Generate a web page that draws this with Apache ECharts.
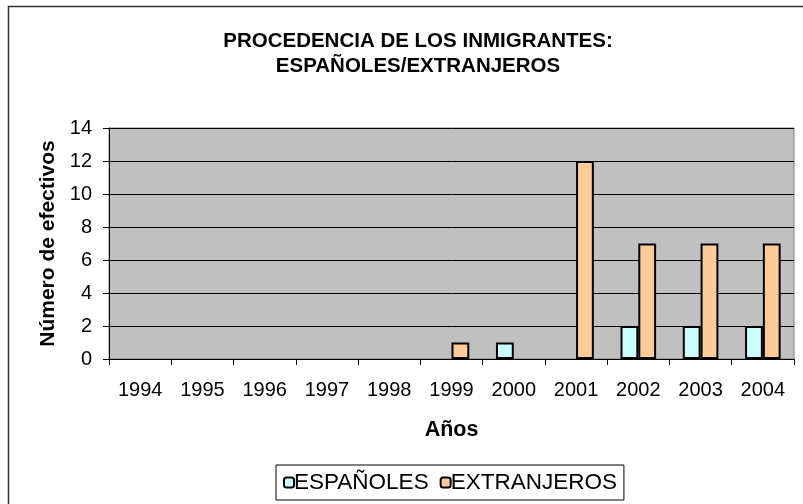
<!DOCTYPE html>
<html lang="es">
<head>
    <meta charset="UTF-8">
    <title>Procedencia de los inmigrantes</title>
    <script src="https://cdn.jsdelivr.net/npm/echarts@6.0.0/dist/echarts.min.js"></script>
    <style>
        body { margin: 0; background: #fff; }
    </style>
</head>
<body>
    <div id="main" style="width: 803px;height:504px;"></div>
    <script type="text/javascript">
        // data
        const years = ['1994', '1995', '1996', '1997', '1998', '1999', '2000', '2001', '2002', '2003', '2004'];
        const espanoles = [0, 0, 0, 0, 0, 0, 1, 0, 2, 2, 2];
        const extranjeros = [0, 0, 0, 0, 0, 1, 0, 12, 7, 7, 7];
        const yTicks = [0, 2, 4, 6, 8, 10, 12, 14];

        const font = 'Liberation Sans, Arial, sans-serif';

        // zero bars are not drawn in the original, so drop their border
        function toBars(values) {
            return values.map(v => v === 0
                ? { value: v, itemStyle: { borderWidth: 0 } }
                : v);
        }

        const myChart = echarts.init(document.getElementById('main'));

        const option = {
            backgroundColor: '#fff',
            textStyle: { fontFamily: font, color: '#000' },
            // chart area frame, it runs past the right and bottom edges
            graphic: [{
                type: 'rect',
                shape: { x: 8.5, y: 6.5, width: 900, height: 600 },
                style: { fill: 'none', stroke: '#333', lineWidth: 1.5 },
                silent: true
            }],
            title: {
                text: 'PROCEDENCIA DE LOS INMIGRANTES:\nESPAÑOLES/EXTRANJEROS',
                left: 413,
                textAlign: 'center',
                top: 24,
                textStyle: {
                    fontFamily: font,
                    fontSize: 20.5,
                    fontWeight: 'bold',
                    color: '#000',
                    lineHeight: 25
                }
            },
            grid: {
                left: 109,
                right: 9,
                top: 128,
                bottom: 145,
                show: true,
                backgroundColor: '#C0C0C0',
                borderColor: '#808080',
                borderWidth: 1
            },
            legend: {
                top: 465,
                left: 276,
                data: ['ESPAÑOLES', 'EXTRANJEROS'],
                itemWidth: 10,
                itemHeight: 10,
                itemGap: 11,
                padding: [6, 7, 6, 7],
                borderColor: '#000',
                borderWidth: 1,
                textStyle: { fontFamily: font, fontSize: 22.5, color: '#000', padding: [0, 0, 0, -5] }
            },
            xAxis: {
                type: 'category',
                data: years,
                name: 'Años',
                nameLocation: 'middle',
                nameGap: 60,
                nameTextStyle: { fontFamily: font, fontSize: 21.5, fontWeight: 'bold', color: '#000' },
                axisLine: { lineStyle: { color: '#000', width: 1 } },
                axisTick: { show: true, length: 6, lineStyle: { color: '#000' } },
                axisLabel: { fontFamily: font, fontSize: 20, color: '#000', margin: 21 }
            },
            yAxis: {
                type: 'value',
                min: yTicks[0],
                max: yTicks[yTicks.length - 1],
                interval: 2,
                name: 'Número de efectivos',
                nameLocation: 'middle',
                nameGap: 40,
                nameTextStyle: { fontFamily: font, fontSize: 21, fontWeight: 'bold', color: '#000' },
                axisLine: { show: true, lineStyle: { color: '#000', width: 1 } },
                axisTick: { show: true, length: 6, lineStyle: { color: '#000' } },
                splitLine: { lineStyle: { color: '#000', width: 1 } },
                axisLabel: { fontFamily: font, fontSize: 20, color: '#000', margin: 17 }
            },
            series: [
                {
                    name: 'ESPAÑOLES',
                    type: 'bar',
                    data: toBars(espanoles),
                    barGap: '0%',
                    barCategoryGap: '42.86%',
                    itemStyle: { color: '#CCFFFF', borderColor: '#000', borderWidth: 2 }
                },
                {
                    name: 'EXTRANJEROS',
                    type: 'bar',
                    data: toBars(extranjeros),
                    barGap: '0%',
                    barCategoryGap: '42.86%',
                    itemStyle: { color: '#FFCC99', borderColor: '#000', borderWidth: 2 }
                }
            ]
        };

        myChart.setOption(option);
    </script>
</body>
</html>
